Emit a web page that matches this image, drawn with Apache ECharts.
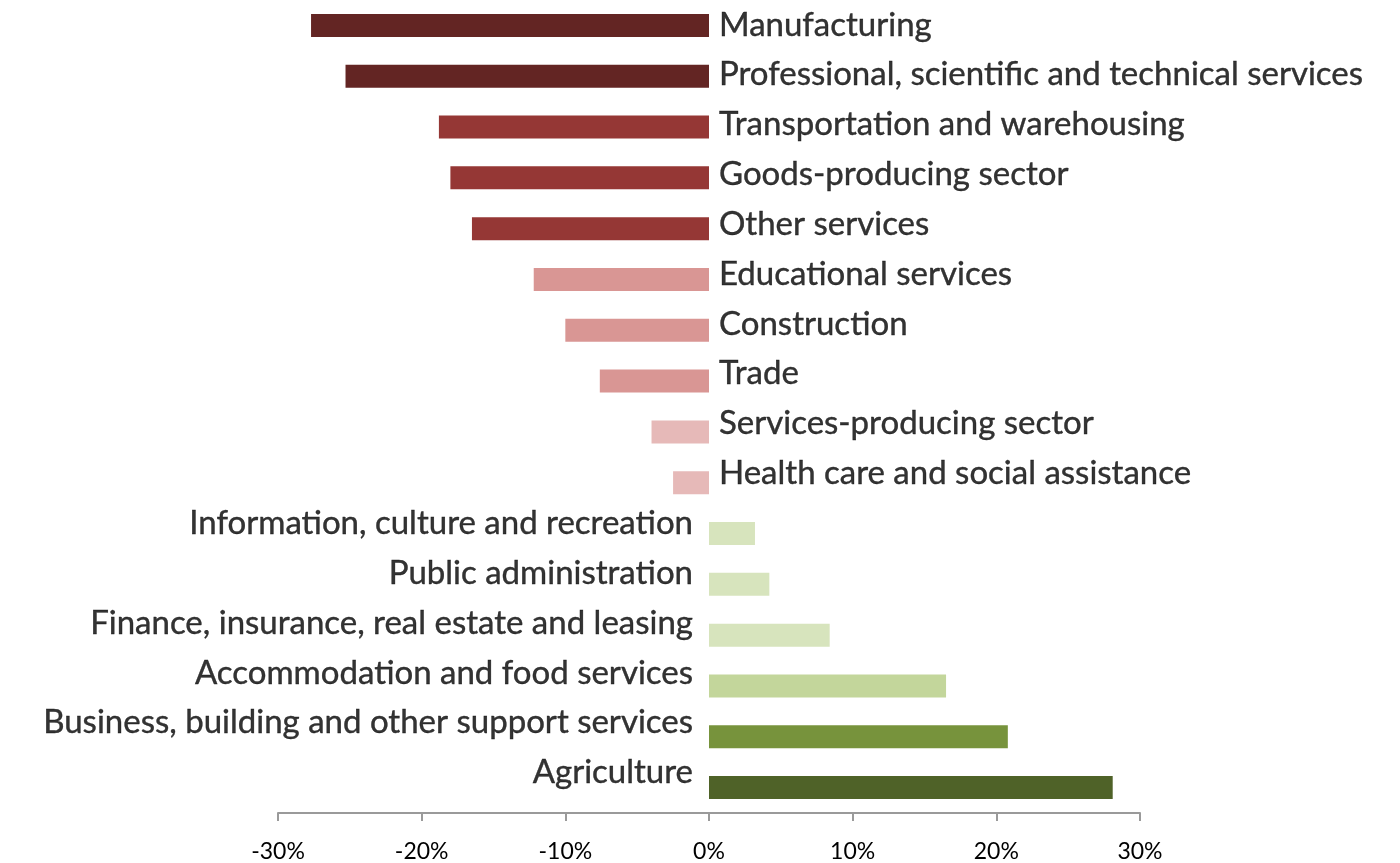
<!DOCTYPE html>
<html>
<head>
<meta charset="utf-8">
<title>Employment change by industry</title>
<script src="https://cdn.jsdelivr.net/npm/echarts@6/dist/echarts.min.js"></script>
<style>
  html, body { margin: 0; padding: 0; background: #ffffff; }
  #chart { width: 1400px; height: 863px; }
</style>
</head>
<body>
<div id="chart"></div>
<script>
// Industries, top to bottom
const industries = [
  'Manufacturing',
  'Professional, scientific and technical services',
  'Transportation and warehousing',
  'Goods-producing sector',
  'Other services',
  'Educational services',
  'Construction',
  'Trade',
  'Services-producing sector',
  'Health care and social assistance',
  'Information, culture and recreation',
  'Public administration',
  'Finance, insurance, real estate and leasing',
  'Accommodation and food services',
  'Business, building and other support services',
  'Agriculture'
];

// Percentage change for each industry
const changePct = [
  -27.7, -25.3, -18.8, -18.0, -16.5, -12.2, -10.0, -7.6,
  -4.0, -2.5, 3.2, 4.2, 8.4, 16.5, 20.8, 28.1
];

// Bar colours, one per industry
const barColors = [
  '#632523', '#632523',
  '#953735', '#953735', '#953735',
  '#D99694', '#D99694', '#D99694',
  '#E6B9B8', '#E6B9B8',
  '#D7E4BD', '#D7E4BD', '#D7E4BD',
  '#C3D69B',
  '#77933C',
  '#4F6228'
];

// Value axis ticks
const axisMin = -30;
const axisMax = 30;
const axisStep = 10;

const labelFont = 'Lato, "Open Sans", sans-serif';

const chart = echarts.init(document.getElementById('chart'), null, { renderer: 'canvas' });

chart.setOption({
  backgroundColor: '#ffffff',
  animation: false,
  grid: [
    // bars
    { left: 278, right: 260, top: -2.5, bottom: 48, containLabel: false },
    // industry names
    { left: 278, right: 260, top: -6.5, height: 804, containLabel: false }
  ],
  xAxis: [
    {
      gridIndex: 0,
      type: 'value',
      min: axisMin,
      max: axisMax,
      interval: axisStep,
      splitLine: { show: false },
      axisLine: { show: true, lineStyle: { color: '#9a9a9a', width: 2 } },
      axisTick: { show: true, length: 8, lineStyle: { color: '#9a9a9a', width: 2 } },
      axisLabel: {
        margin: 27,
        color: '#000000',
        fontFamily: labelFont,
        fontSize: 23,
        formatter: v => v + '%'
      }
    },
    {
      gridIndex: 1,
      type: 'value',
      min: axisMin,
      max: axisMax,
      show: false
    }
  ],
  yAxis: [
    {
      gridIndex: 0,
      type: 'category',
      data: industries,
      inverse: true,
      axisLine: { show: false },
      axisTick: { show: false },
      axisLabel: { show: false }
    },
    {
      gridIndex: 1,
      type: 'category',
      data: industries,
      inverse: true,
      show: false
    }
  ],
  series: [
    {
      type: 'bar',
      xAxisIndex: 0,
      yAxisIndex: 0,
      barWidth: 23,
      data: changePct.map((v, i) => ({ value: v, itemStyle: { color: barColors[i] } })),
      label: { show: false }
    },
    {
      type: 'scatter',
      xAxisIndex: 1,
      yAxisIndex: 1,
      symbolSize: 0,
      silent: true,
      data: industries.map((name, i) => ({
        value: [0, i],
        label: {
          show: true,
          position: changePct[i] < 0 ? 'right' : 'left',
          distance: changePct[i] < 0 ? 10 : 16,
          formatter: name,
          color: '#000000',
          textBorderColor: '#000000',
          textBorderWidth: 0.4,
          fontFamily: labelFont,
          fontSize: 33
        }
      }))
    }
  ]
});
</script>
</body>
</html>
